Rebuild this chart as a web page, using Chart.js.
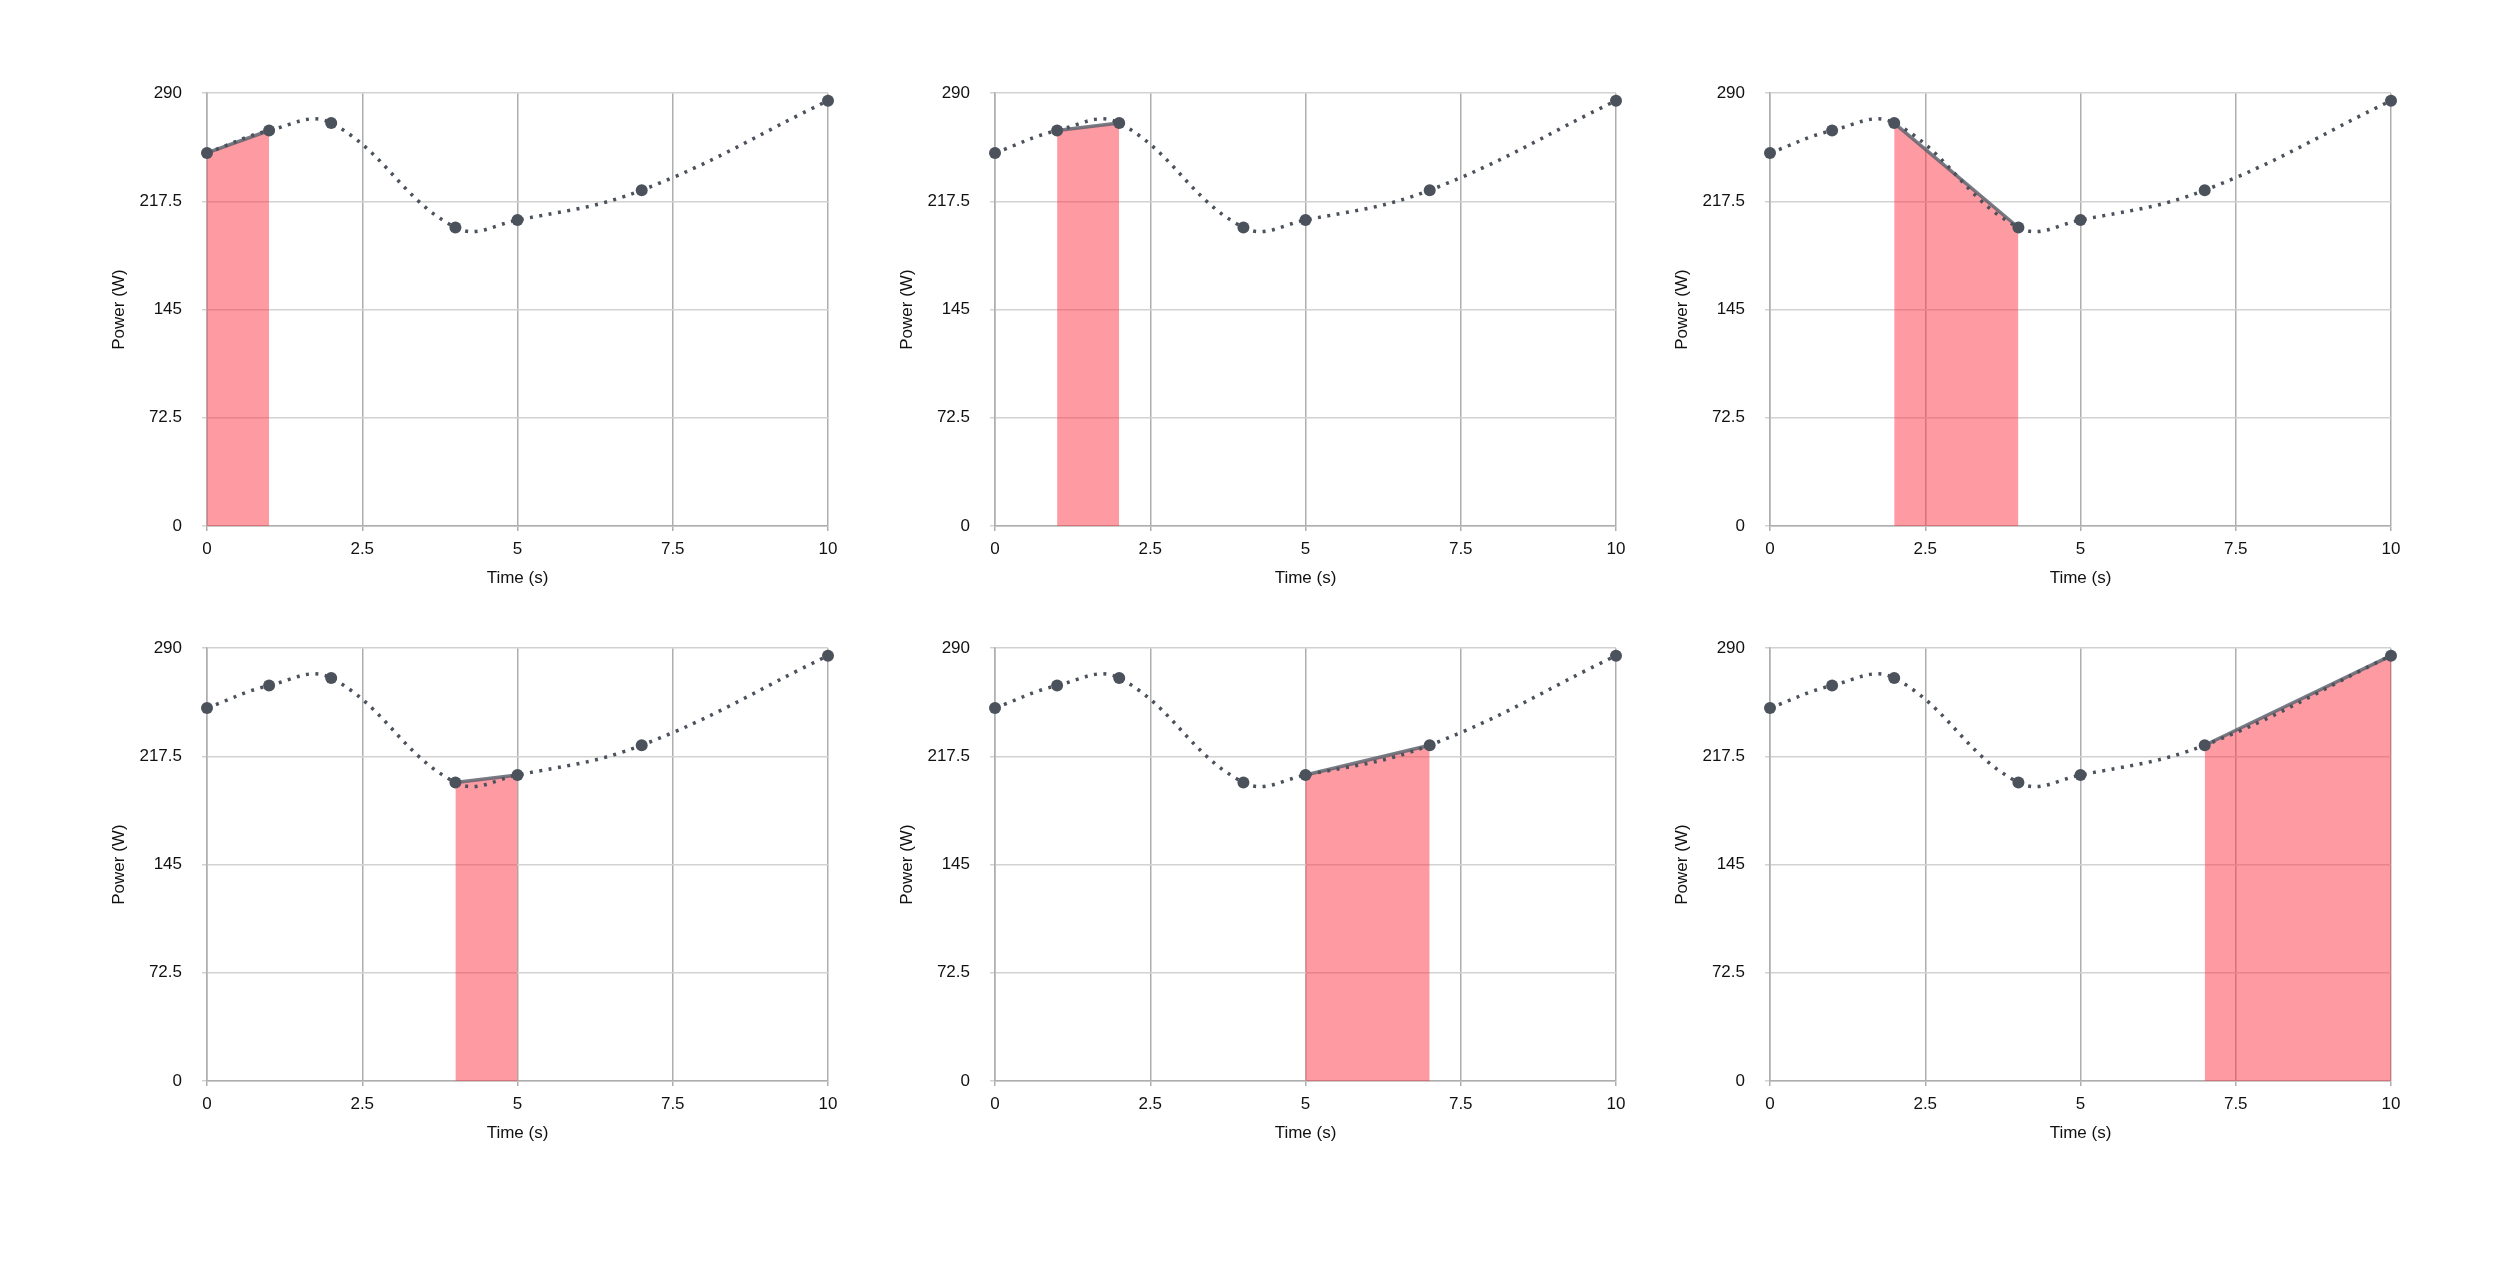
<!DOCTYPE html>
<html>
<head>
<meta charset="utf-8">
<script src="https://cdn.jsdelivr.net/npm/chart.js@4.4.0/dist/chart.umd.min.js"></script>
<style>
  body { margin: 0; background: #fff; width: 2500px; height: 1280px; position: relative; overflow: hidden; }
  canvas { position: absolute; }
</style>
</head>
<body>
<script>
// data
var times = [0, 1, 2, 4, 5, 7, 10];
var power = [250, 265, 270, 200, 205, 225, 285];
var xTicks = [0, 2.5, 5, 7.5, 10];
var yTicks = [0, 72.5, 145, 217.5, 290];

// layout of the 2x3 grid (plot area corners)
var colLeft = [207, 995, 1770];
var rowTop = [93, 648];
var plotW = 621, plotH = 433;
var axisW = 110, axisH = 70, padTop = 20, padRight = 20;

var lineColor = '#4b525c';
var fnt = 'Liberation Sans, Arial, Helvetica, sans-serif';

function panelConfig(k) {
  var pts = times.map(function (t, i) { return { x: t, y: power[i] }; });
  var seg = [pts[k], pts[k + 1]];
  return {
    type: 'line',
    data: {
      datasets: [{
        data: pts,
        borderColor: lineColor,
        borderWidth: 3.5,
        borderDash: [3, 6.5],
        tension: 0.4,
        fill: false,
        pointRadius: 6,
        pointBackgroundColor: lineColor,
        pointBorderWidth: 0,
        clip: false,
        order: 1
      }, {
        data: seg,
        borderColor: 'rgba(95,100,110,0.85)',
        borderWidth: 3.5,
        tension: 0,
        fill: 'origin',
        backgroundColor: 'rgba(253,53,69,0.5)',
        pointRadius: 0,
        clip: false,
        order: 2
      }]
    },
    options: {
      responsive: false,
      animation: false,
      events: [],
      layout: { padding: { top: padTop, right: padRight, left: 0, bottom: 0 } },
      plugins: { legend: { display: false }, tooltip: { enabled: false } },
      scales: {
        x: {
          type: 'linear', min: 0, max: 10,
          afterBuildTicks: function (s) { s.ticks = xTicks.map(function (v) { return { value: v }; }); },
          afterFit: function (s) { s.height = axisH; },
          grid: { color: '#aeaeae', lineWidth: 1.5, tickLength: 5 },
          border: { color: '#aeaeae', width: 1.5 },
          ticks: { color: '#111', padding: 8, maxRotation: 0, font: { family: fnt, size: 17 } },
          title: { display: true, text: 'Time (s)', color: '#111', padding: { top: 0, bottom: 7 }, font: { family: fnt, size: 17 } }
        },
        y: {
          min: 0, max: 290,
          afterBuildTicks: function (s) { s.ticks = yTicks.map(function (v) { return { value: v }; }); },
          afterFit: function (s) { s.width = axisW; },
          grid: { color: '#d2d2d2', lineWidth: 1.5, tickLength: 5 },
          border: { color: '#aeaeae', width: 1.5 },
          ticks: { color: '#111', padding: 20, font: { family: fnt, size: 17 } },
          title: { display: true, text: 'Power (W)', color: '#111', padding: { top: 12, bottom: 0 }, font: { family: fnt, size: 17 } }
        }
      }
    }
  };
}

function makePanel(k) {
  var col = k % 3, row = Math.floor(k / 3);
  var cv = document.createElement('canvas');
  cv.width = axisW + plotW + padRight;
  cv.height = padTop + plotH + axisH;
  document.body.appendChild(cv);

  // first pass: measure the plot area, then size the canvas so it comes out exact
  var chart = new Chart(cv, panelConfig(k));
  var ca = chart.chartArea;
  var w = cv.width + (plotW - (ca.right - ca.left));
  var h = cv.height + (plotH - (ca.bottom - ca.top));
  chart.destroy();
  cv.width = w;
  cv.height = h;
  cv.style.width = w + 'px';
  cv.style.height = h + 'px';
  chart = new Chart(cv, panelConfig(k));
  ca = chart.chartArea;
  cv.style.left = (colLeft[col] - ca.left) + 'px';
  cv.style.top = (rowTop[row] - ca.top) + 'px';
}

for (var k = 0; k < 6; k++) makePanel(k);
</script>
</body>
</html>
